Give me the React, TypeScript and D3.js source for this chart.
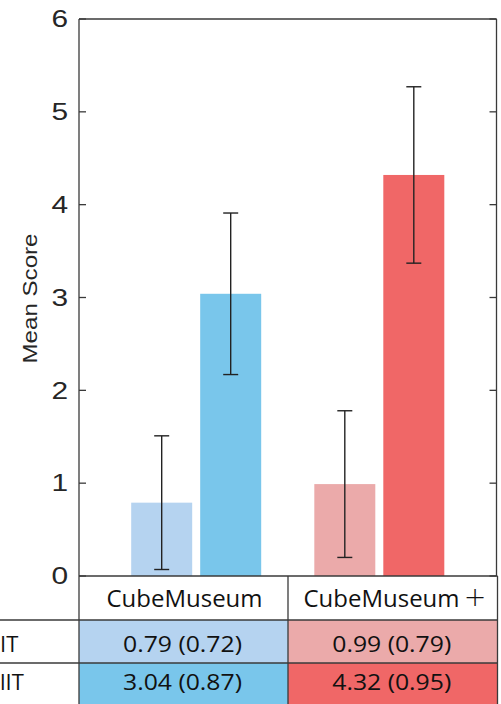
import React from "react";
import * as d3 from "d3";

const groups = ["CubeMuseum", "CubeMuseum"];
const groupSuffix = ["", "+"];
const rowLabels = ["IT", "lIT"];
const row1Means = [0.79, 0.99];
const row1SDs = [0.72, 0.79];
const row2Means = [3.04, 4.32];
const row2SDs = [0.87, 0.95];
const yTicks = [0, 1, 2, 3, 4, 5, 6];
const row1Colors = ["#b5d3f0", "#ebaaaa"];
const row2Colors = ["#79c6eb", "#f06767"];

const W = 501;
const H = 704;
const L = 79;
const R = 496.5;
const T = 19;
const B = 576;
const tableR = 497.5;
const rowY = [576, 620, 663, 704];

export default function App() {
  const y = d3.scaleLinear().domain([0, 6]).range([B, T]);
  const x = d3.scaleLinear().domain([0.36, 2.64]).range([L, R]);
  const barW = 61;
  const offset = 34.5;
  const lineC = "#3a3a3a";
  const fmt = (m: number, s: number) => `${m.toFixed(2)} (${s.toFixed(2)})`;

  const series = [
    { means: row1Means, sds: row1SDs, colors: row1Colors, dx: -offset },
    { means: row2Means, sds: row2SDs, colors: row2Colors, dx: offset },
  ];

  const cellX = [L, 288, tableR];
  const headerCenters = [184.5, 381.5];

  return (
    <svg
      width={W}
      height={H}
      style={{ position: "absolute", left: 0, top: 0, background: "#fff" }}
    >
      {/* bars */}
      {series.map((s, si) =>
        s.means.map((m, gi) => {
          const cx = x(gi + 1) + s.dx;
          return (
            <rect
              key={`b${si}-${gi}`}
              x={cx - barW / 2}
              y={y(m)}
              width={barW}
              height={y(0) - y(m)}
              fill={s.colors[gi]}
            />
          );
        })
      )}
      {/* error bars */}
      {series.map((s, si) =>
        s.means.map((m, gi) => {
          const cx = x(gi + 1) + s.dx;
          const lo = y(m - s.sds[gi]);
          const hi = y(m + s.sds[gi]);
          return (
            <g key={`e${si}-${gi}`} stroke="#222" strokeWidth={1.4}>
              <line x1={cx} x2={cx} y1={lo} y2={hi} />
              <line x1={cx - 7.5} x2={cx + 7.5} y1={lo} y2={lo} />
              <line x1={cx - 7.5} x2={cx + 7.5} y1={hi} y2={hi} />
            </g>
          );
        })
      )}
      {/* axes box */}
      <g stroke={lineC} strokeWidth={1.3} fill="none">
        <line x1={L} x2={L} y1={T} y2={B} />
        <line x1={L} x2={R} y1={T} y2={T} />
        <line x1={R} x2={R} y1={T} y2={B} />
        <line x1={L} x2={tableR} y1={B} y2={B} />
        {yTicks.map((t) => (
          <g key={`t${t}`}>
            <line x1={L} x2={L + 7} y1={y(t)} y2={y(t)} />
            <line x1={R - 7} x2={R} y1={y(t)} y2={y(t)} />
          </g>
        ))}
      </g>
      {yTicks.map((t) => (
        <text
          key={`tl${t}`}
          transform={`translate(68, ${y(t)}) scale(1.3, 1)`}
          dy="0.36em"
          textAnchor="end"
          fontFamily="Liberation Sans, Arial, sans-serif"
          fontSize={23}
          fill="#262626"
        >
          {t}
        </text>
      ))}
      <text
        transform={`translate(37, ${(T + B) / 2 + 1}) rotate(-90)`}
        textAnchor="middle"
        fontFamily="Liberation Sans, Arial, sans-serif"
        fontSize={20}
        textLength={130}
        lengthAdjust="spacingAndGlyphs"
        fill="#262626"
      >
        Mean Score
      </text>

      {/* table cells */}
      {[row1Colors, row2Colors].map((cols, ri) =>
        cols.map((c, gi) => (
          <rect
            key={`c${ri}-${gi}`}
            x={cellX[gi]}
            y={rowY[ri + 1]}
            width={cellX[gi + 1] - cellX[gi]}
            height={rowY[ri + 2] - rowY[ri + 1]}
            fill={c}
          />
        ))
      )}
      {/* table lines */}
      <g stroke={lineC} strokeWidth={1.3}>
        <line x1={0} x2={tableR} y1={rowY[1]} y2={rowY[1]} />
        <line x1={0} x2={tableR} y1={rowY[2]} y2={rowY[2]} />
        {cellX.map((cx, i) => (
          <line key={`v${i}`} x1={cx} x2={cx} y1={B} y2={H} />
        ))}
      </g>
      {/* header text */}
      {groups.map((g, gi) => (
        <text
          key={`h${gi}`}
          x={headerCenters[gi]}
          y={607}
          textAnchor="middle"
          fontFamily="Open Sans, sans-serif"
          fontSize={23}
          textLength={156}
          lengthAdjust="spacingAndGlyphs"
          fill="#111"
        >
          {g}
        </text>
      ))}
      {groupSuffix.map((s, gi) =>
        s ? (
          <text
            key={`s${gi}`}
            x={475}
            y={606}
            textAnchor="middle"
            fontFamily="DejaVu Sans, sans-serif"
            fontWeight={300}
            fontSize={27}
            fill="#111"
          >
            {s}
          </text>
        ) : null
      )}
      {/* body text */}
      {[
        { means: row1Means, sds: row1SDs, yb: 652 },
        { means: row2Means, sds: row2SDs, yb: 690 },
      ].map((r, ri) =>
        r.means.map((m, gi) => (
          <text
            key={`v${ri}-${gi}`}
            x={(cellX[gi] + cellX[gi + 1]) / 2 - 1}
            y={r.yb}
            textAnchor="middle"
            fontFamily="Open Sans, sans-serif"
            fontSize={22.5}
            textLength={119}
            lengthAdjust="spacingAndGlyphs"
            fill="#111"
          >
            {fmt(m, r.sds[gi])}
          </text>
        ))
      )}
      {rowLabels.map((lab, ri) => (
        <text
          key={`rl${ri}`}
          x={0}
          y={ri === 0 ? 652 : 690}
          textAnchor="start"
          fontFamily="Open Sans, sans-serif"
          fontSize={22}
          fill="#111"
        >
          {lab}
        </text>
      ))}
    </svg>
  );
}
